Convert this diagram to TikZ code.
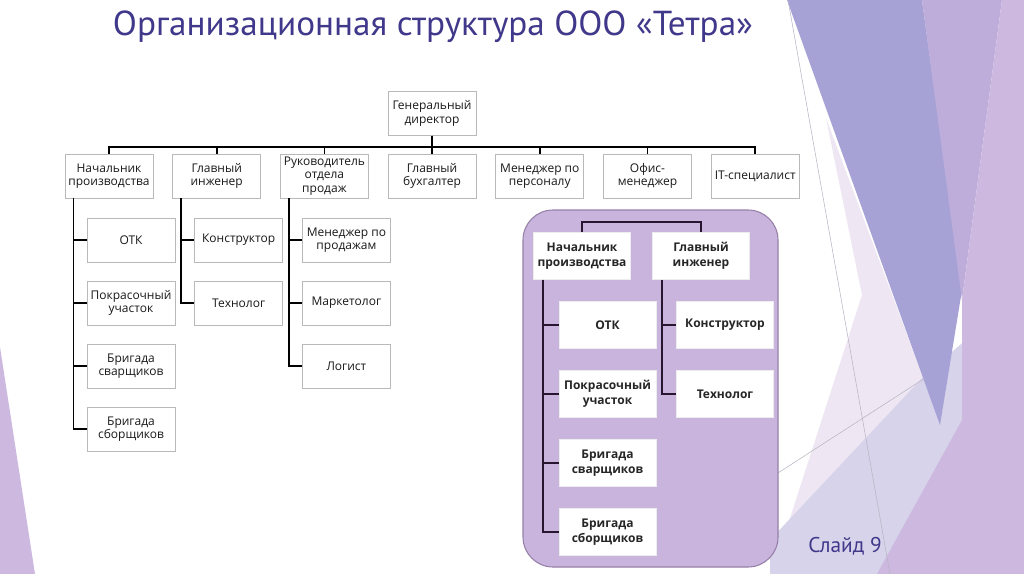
\documentclass[tikz,border=0pt]{standalone}
\usepackage{fontspec}
\setmainfont{Open Sans}
\newfontfamily\titlefont{PT Sans}
\usetikzlibrary{calc}
\definecolor{titleblue}{RGB}{64,56,138}
\definecolor{boxgray}{RGB}{185,185,185}
\definecolor{grpfill}{RGB}{201,180,221}
\definecolor{grpborder}{RGB}{150,128,168}
\definecolor{darkplum}{RGB}{40,22,48}
\definecolor{bgblue}{RGB}{166,162,214}
\definecolor{bgmid}{RGB}{190,173,218}
\definecolor{bglight}{RGB}{205,185,224}
\definecolor{bgpink}{RGB}{238,230,243}
\definecolor{bglav}{RGB}{214,211,234}
\definecolor{bgline}{RGB}{185,180,195}
\begin{document}
\begin{tikzpicture}[x=0.75pt,y=-0.75pt,
  box/.style={draw=boxgray, fill=white, line width=0.6pt, minimum width=66pt,
    minimum height=33pt, inner sep=0.5pt, align=center,
    font=\fontsize{9}{10}\selectfont, text=black!90},
  ibox/.style={draw=white!85!gray, fill=white, line width=0.6pt, minimum width=72.75pt,
    minimum height=35.25pt, inner sep=1pt, align=center,
    font=\fontsize{9}{11}\selectfont\bfseries, text=black!85},
  conn/.style={line width=1.3pt, draw=black},
  iconn/.style={line width=1.3pt, draw=darkplum}]
\useasboundingbox (0,0) rectangle (1024,574);
\fill[white] (0,0) rectangle (1024,574);
% background decoration
\fill[bgpink] (826,118) -- (950,450) -- (900,574) -- (772,574) -- (862,295) -- cycle;
\fill[bglav] (770,540) -- (925,375) -- (1024,290) -- (1024,574) -- (770,574) -- cycle;
\fill[bgblue] (787,0) -- (922,0) -- (962,290) -- (940,425) -- cycle;
\fill[bgmid] (922,0) -- (1002,0) -- (962,300) -- cycle;
\fill[bglight] (1002,0) -- (1024,0) -- (1024,574) -- (877,574) -- (962,420) -- (962,300) -- cycle;
\fill[bglight] (0,347) -- (35,574) -- (0,574) -- cycle;
\draw[bgline, line width=0.4pt] (788,0) -- (890,574);
\draw[bgline, line width=0.4pt] (778,473) -- (925,378);
% title
\node[text=titleblue, inner sep=0pt] (title) at (433,27)
  {\resizebox{480pt}{\height}{\titlefont\fontsize{26}{30}\selectfont Организационная структура ООО «Тетра»}};
\node[text=titleblue, inner sep=0pt, font=\titlefont\fontsize{16}{19}\selectfont] (slide) at (845,546) {Слайд 9};
% main chart
\node[box] (gd) at (432,113.5) {Генеральный\\директор};
\node[box] (b1) at (109,176) {Начальник\\производства};
\node[box] (b2) at (216.7,176) {Главный\\инженер};
\node[box] (b3) at (324.4,176) {Руководитель\\отдела\\продаж};
\node[box] (b4) at (432.1,176) {Главный\\бухгалтер};
\node[box] (b5) at (539.8,176) {Менеджер по\\персоналу};
\node[box] (b6) at (647.5,176) {Офис-\\менеджер};
\node[box] (b7) at (755.2,176) {IT-специалист};
\foreach \n in {b1,b2,b3,b4,b5,b6,b7}
  \draw[conn] (gd.south) -- ++(0,11) -| (\n.north);
% column 1
\node[box] (c11) at (131,240) {ОТК};
\node[box] (c12) at (131,303) {Покрасочный\\участок};
\node[box] (c13) at (131,366) {Бригада\\сварщиков};
\node[box] (c14) at (131,429) {Бригада\\сборщиков};
\foreach \n in {c11,c12,c13,c14}
  \draw[conn] ($(b1.south west)+(9,0)$) |- (\n.west);
% column 2
\node[box] (c21) at (238.7,240) {Конструктор};
\node[box] (c22) at (238.7,303) {Технолог};
\foreach \n in {c21,c22}
  \draw[conn] ($(b2.south west)+(9,0)$) |- (\n.west);
% column 3
\node[box] (c31) at (346.4,240) {Менеджер по\\продажам};
\node[box] (c32) at (346.4,303) {Маркетолог};
\node[box] (c33) at (346.4,366) {Логист};
\foreach \n in {c31,c32,c33}
  \draw[conn] ($(b3.south west)+(9,0)$) |- (\n.west);
% highlighted group
\draw[fill=grpfill, draw=grpborder, line width=0.8pt, rounded corners=22.5pt] (523,210) rectangle (778,567);
\node[ibox] (ip) at (582,256) {Начальник\\производства};
\node[ibox] (ig) at (701,256) {Главный\\инженер};
\draw[iconn] (ip.north) -- ++(0,-10) -| (ig.north);
\node[ibox] (ia1) at (607.5,325) {ОТК};
\node[ibox] (ia2) at (607.5,394) {Покрасочный\\участок};
\node[ibox] (ia3) at (607.5,463) {Бригада\\сварщиков};
\node[ibox] (ia4) at (607.5,532) {Бригада\\сборщиков};
\foreach \n in {ia1,ia2,ia3,ia4}
  \draw[iconn] ($(ip.south west)+(10,0)$) |- (\n.west);
\node[ibox] (ib1) at (725,325) {Конструктор};
\node[ibox] (ib2) at (725,394) {Технолог};
\foreach \n in {ib1,ib2}
  \draw[iconn] ($(ig.south west)+(10,0)$) |- (\n.west);
\end{tikzpicture}
\end{document}
